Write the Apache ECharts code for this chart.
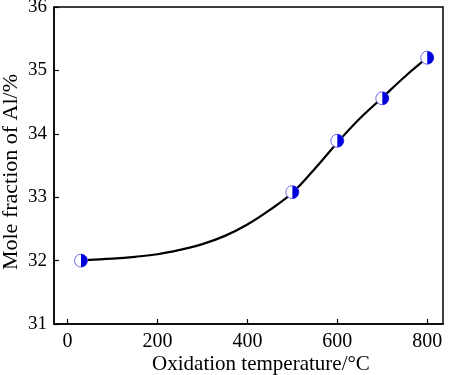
<!DOCTYPE html>
<html>
<head>
<meta charset="utf-8">
<script src="https://cdn.jsdelivr.net/npm/echarts@6/dist/echarts.min.js"></script>
<style>
html,body{margin:0;padding:0;background:#fff;}
#chart{width:450px;height:375px;}
</style>
</head>
<body>
<div id="chart"></div>
<script>
// measured points
var temps = [30, 500, 600, 700, 800];
var alFraction = [32.0, 33.08, 33.89, 34.56, 35.2];
// fitted curve
var curveX = [30, 50, 100, 150, 200, 250, 300, 350, 400, 450, 500, 550, 600, 650, 700, 750, 800];
var curveY = [32.0, 32.01, 32.03, 32.06, 32.1, 32.17, 32.26, 32.39, 32.57, 32.8, 33.07, 33.45, 33.86, 34.24, 34.57, 34.9, 35.2];
var xTicks = [0, 200, 400, 600, 800];

var chart = echarts.init(document.getElementById('chart'));

var points = [];
for (var i = 0; i < temps.length; i++) points.push([temps[i], alFraction[i]]);
var curve = [];
for (var j = 0; j < curveX.length; j++) curve.push([curveX[j], curveY[j]]);

var font = 'Liberation Serif';

var option = {
    animation: false,
    grid: {
        left: 54, top: 7, right: 7, bottom: 51,
        containLabel: false, outerBoundsMode: 'none',
        show: true, borderColor: '#000', borderWidth: 1.5
    },
    xAxis: {
        type: 'value',
        min: -30, max: 835,
        name: 'Oxidation temperature/°C',
        nameLocation: 'middle',
        nameGap: 30,
        nameMoveOverlap: false,
        nameTextStyle: {fontFamily: font, fontSize: 21, color: '#000', padding: [0, 0, 0, 25]},
        axisLine: {onZero: false, lineStyle: {color: '#000', width: 1.5}},
        axisTick: {inside: true, length: 5, customValues: xTicks, lineStyle: {color: '#000', width: 1.2}},
        axisLabel: {customValues: xTicks, margin: 8, fontFamily: font, fontSize: 20, color: '#000'},
        splitLine: {show: false}
    },
    yAxis: {
        type: 'value',
        min: 31, max: 36, interval: 1,
        name: 'Mole fraction of Al/%',
        nameLocation: 'middle',
        nameGap: 32,
        nameMoveOverlap: false,
        nameTextStyle: {fontFamily: font, fontSize: 22, color: '#000', padding: [0, 13, 0, 0]},
        axisLine: {onZero: false, lineStyle: {color: '#000', width: 1.5}},
        axisTick: {inside: true, length: 5, lineStyle: {color: '#000', width: 1.2}},
        axisLabel: {margin: 7, fontFamily: font, fontSize: 19, color: '#000'},
        splitLine: {show: false}
    },
    series: [
        {
            type: 'line',
            data: curve,
            smooth: 0.4,
            showSymbol: false,
            lineStyle: {color: '#000', width: 2.2},
            z: 2
        },
        {
            type: 'scatter',
            data: points,
            symbol: 'circle',
            symbolSize: 13,
            itemStyle: {color: '#fff', borderColor: '#6a6af2', borderWidth: 1, opacity: 1},
            z: 3
        },
        {
            type: 'scatter',
            data: points,
            symbol: 'path://M0,0 A10,10 0 0 1 0,20 Z',
            symbolSize: [6.5, 13],
            symbolOffset: [3.25, 0],
            itemStyle: {color: '#0000dd', opacity: 1},
            z: 4
        }
    ]
};
chart.setOption(option);
</script>
</body>
</html>
